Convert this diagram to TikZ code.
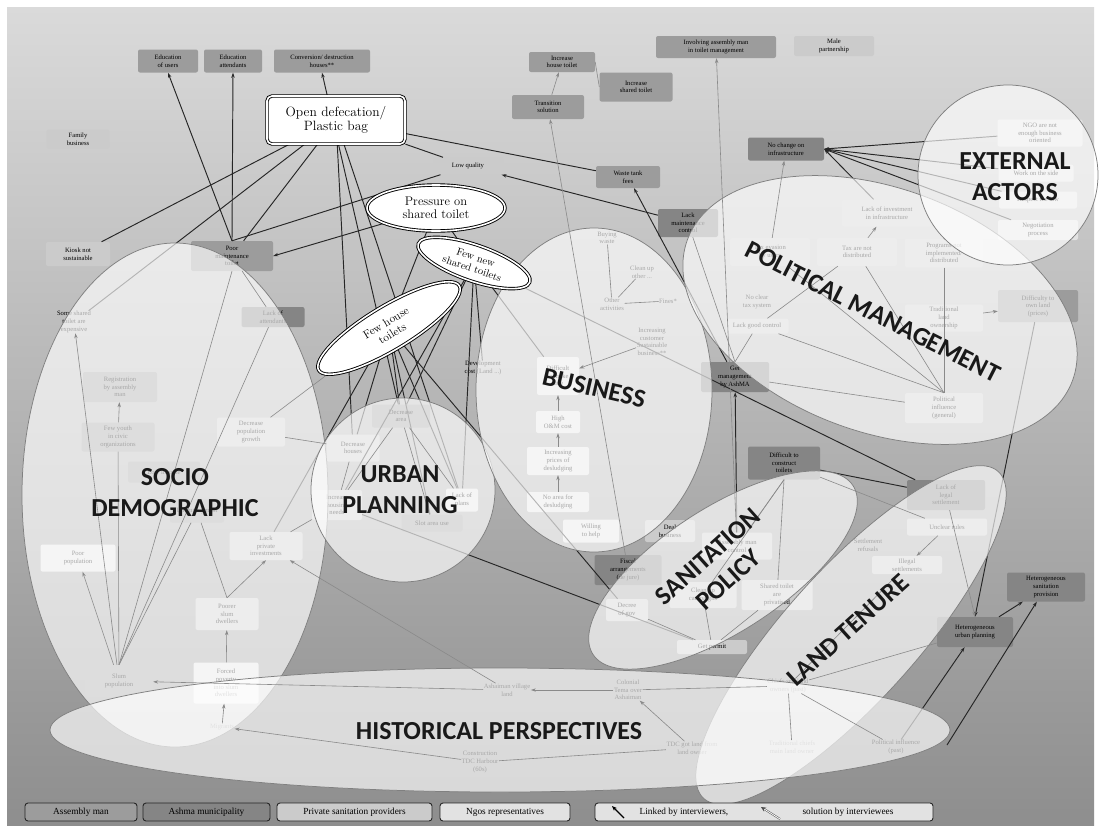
\documentclass[tikz,border=0pt]{standalone}
\usepackage{fontspec}
\newfontfamily\boxfont{Liberation Serif}
\newfontfamily\labfont{Carlito}
\usetikzlibrary{shapes.geometric,arrows.meta}
\definecolor{amC}{HTML}{9C9C9C}
\definecolor{ashC}{HTML}{858585}
\definecolor{pspC}{HTML}{CBCBCB}
\definecolor{ngoC}{HTML}{E2E2E2}
\definecolor{bgTop}{HTML}{DADADA}
\definecolor{bgBot}{HTML}{8E8E8E}
\definecolor{innerLine}{HTML}{8A8A8A}
\pgfdeclarelayer{back}
\pgfdeclarelayer{boxes}
\pgfdeclarelayer{links}
\pgfdeclarelayer{ells}
\pgfdeclarelayer{inner}
\pgfsetlayers{back,boxes,links,ells,inner,main}
\tikzset{
  bx/.style={rounded corners=2pt, inner sep=0.5pt, align=center,
    font=\boxfont\fontsize{6.6}{7.6}\selectfont, text=black},
  am/.style={bx, fill=amC},
  ash/.style={bx, fill=ashC},
  psp/.style={bx, fill=pspC},
  ngo/.style={bx, fill=ngoC},
  txt/.style={bx},
  ell/.style={fill=white, fill opacity=0.66, draw=black!50, line width=0.75pt},
  cnode/.style={draw=black, line width=0.9pt, double=white, double distance=1.6pt,
    fill=white, align=center, inner sep=0pt, font=\fontsize{12.5}{13.5}\selectfont},
  lab/.style={align=center, text=black!90, font=\labfont\bfseries\fontsize{26}{31}\selectfont},
  dk/.style={draw=black!85, line width=0.95pt},
  lt/.style={draw=innerLine, line width=0.6pt},
  arr/.style={-{Stealth[length=5pt,width=3.4pt]}},
  legbox/.style={draw=black!85, line width=0.9pt, rounded corners=3pt, minimum height=18,
    inner sep=1pt, font=\boxfont\fontsize{9.3}{10}\selectfont}
}
\begin{document}
\begin{tikzpicture}[x=1pt,y=-1pt]
\useasboundingbox (0,0) rectangle (1100,825);

% ---------- central problem nodes ----------
\node[cnode, rounded corners=5pt, minimum width=138, minimum height=48,
  font=\fontsize{13.5}{14.5}\selectfont] (od) at (336,120) {Open defecation/\\Plastic bag};
\node[cnode, ellipse, minimum width=138, minimum height=46] (pres) at (436,208) {Pressure on\\shared toilet};
\node[cnode, ellipse, rotate=-19, minimum width=118, minimum height=36,
  font=\fontsize{10.5}{11.5}\selectfont] (fns) at (474,263) {Few new\\shared toilets};
\node[cnode, ellipse, rotate=31, minimum width=164, minimum height=44,
  font=\fontsize{11.5}{12.5}\selectfont] (fht) at (389,328) {Few house\\toilets};

% ---------- boxes ----------
\begin{pgfonlayer}{boxes}
% upper row
\node[am, minimum width=60, minimum height=23] (eduU) at (168,61) {Education\\of users};
\node[am, minimum width=58, minimum height=23] (eduA) at (233,61) {Education\\attendants};
\node[am, minimum width=96, minimum height=23] (conn) at (322,61) {Conversion/ destruction\\houses**};
\node[am, minimum width=66, minimum height=20] (incH) at (562,62) {Increase\\house toilet};
\node[am, minimum width=73, minimum height=29] (incS) at (636,87) {Increase\\shared toilet};
\node[am, minimum width=72, minimum height=24] (trans) at (548,107) {Transition\\solution};
\node[am, minimum width=120, minimum height=22] (invol) at (716,47) {Involving assembly man\\in toilet management};
\node[psp, minimum width=80, minimum height=20] (male) at (834,46) {Male\\partnership};
\node[psp, minimum width=63, minimum height=19] (family) at (78,139) {Family\\business};
\node[psp, minimum width=64, minimum height=24] (kiosk) at (78,254) {Kiosk not\\sustainable};
\node[am, minimum width=82, minimum height=30] (poorM) at (232,256) {Poor\\maintenance\\toilet};
\node[psp, minimum width=70, minimum height=17] (lowQ) at (468,166) {Low quality};
\node[am, minimum width=64, minimum height=22] (waste) at (628,177) {Waste tank\\fees};
\node[ash, minimum width=76, minimum height=23] (noCh) at (786,149) {No change on\\infrastructure};
\node[ash, minimum width=60, minimum height=28] (lackMC) at (688,223) {Lack\\maintenance\\control};
% political management
\node[psp, minimum width=90, minimum height=27] (lackInv) at (887,213) {Lack of investment\\in infrastructure};
\node[psp, minimum width=80, minimum height=28] (taxX) at (770,252) {Tax evasion\\by users};
\node[psp, minimum width=80, minimum height=28] (taxD) at (857,252) {Tax are not\\distributed};
\node[psp, minimum width=78, minimum height=29] (progs) at (944,253) {Programs not\\implemented/\\distributed};
\node[txt] (noTax) at (757,302) {No clear\\tax system};
\node[psp, minimum width=63, minimum height=15] (lackGood) at (757,326) {Lack good control};
\node[psp, minimum width=78, minimum height=27] (transl) at (944,318) {Traditional\\land\\ownership};
\node[am, minimum width=80, minimum height=32] (diffLand) at (1038,306) {Difficulty to\\own land\\(prices)};
\node[ash, minimum width=68, minimum height=30] (getMan) at (735,377) {Get\\management\\by AshMA};
\node[psp, minimum width=78, minimum height=30] (polGen) at (944,408) {Political\\influence\\(general)};
% external actors
\node[ngo, minimum width=85, minimum height=27] (ngoA) at (1040,133) {NGO are not\\enough business\\oriented};
\node[ngo, minimum width=75, minimum height=17] (ngoB) at (1036,173) {Work on the side};
\node[ngo, minimum width=78, minimum height=17] (ngoC) at (1038,200) {Respect the law};
\node[ngo, minimum width=80, minimum height=20] (ngoD) at (1038,230) {Negotiation\\process};
% sanitation policy and land tenure
\node[ash, minimum width=72, minimum height=33] (diffT) at (784,463) {Difficult to\\construct\\toilets};
\node[ash, minimum width=78, minimum height=30] (lackLeg) at (946,495) {Lack of\\legal\\settlement};
\node[psp, minimum width=80, minimum height=17] (unclear) at (947,527) {Unclear rules};
\node[txt] (settle) at (868,545) {Settlement\\refusals};
\node[psp, minimum width=70, minimum height=18] (illegal) at (907,565) {Illegal\\settlements};
\node[ash, minimum width=78, minimum height=29] (hetSan) at (1046,587) {Heterogeneous\\sanitation\\provision};
\node[ash, minimum width=76, minimum height=30] (hetUrb) at (975,632) {Heterogeneous\\urban planning};
\node[psp, minimum width=70, minimum height=27] (sanA) at (737,546) {Assembly man\\control};
\node[psp, minimum width=67, minimum height=26] (sanB) at (703,595) {Clean up\\campaigns};
\node[psp, minimum width=71, minimum height=30] (sanC) at (777,595) {Shared toilet\\are\\privatised};
\node[psp, minimum width=70, minimum height=14] (getPer) at (712,647) {Get permit};
\node[ash, minimum width=67, minimum height=30] (fiscal) at (628,570) {Fiscal\\arrangements\\(de jure)};
\node[psp, minimum width=42, minimum height=22] (decree) at (627,610) {Decree\\of gov};
\node[psp, minimum width=50, minimum height=22] (deal) at (670,531) {Deal\\business};
% historical perspectives
\node[txt] (chiefs) at (788,686) {Chiefs sell land\\owners (past)};
\node[txt] (tradLand) at (792,747) {Traditional chiefs\\main land owner};
\node[txt] (polPast) at (896,747) {Political influence\\(past)};
\node[txt] (tdc) at (692,748) {TDC got land from\\land owner};
\node[txt] (colonial) at (628,690) {Colonial\\Tema over\\Ashaiman};
\node[txt] (village) at (507,690) {Ashaiman village\\land};
\node[txt] (constr) at (480,762) {Construction\\TDC Harbour\\(60s)};
\node[txt] (migr) at (222,727) {Migrants};
% business
\node[txt] (buying) at (607,238) {Buying\\waste};
\node[txt] (cleanUp) at (642,272) {Clean up\\other ...};
\node[txt] (other) at (612,304) {Other\\activities};
\node[txt] (fines) at (668,301) {Fines*};
\node[txt] (incCust) at (652,342) {Increasing\\customer\\Sustainable\\business**};
\node[ngo, minimum width=42, minimum height=38] (diffS) at (558,376) {Difficult\\to make\\sale};
\node[ngo, minimum width=44, minimum height=22] (highOM) at (558,422) {High\\O\&M cost};
\node[ngo, minimum width=62, minimum height=28] (incPrice) at (558,461) {Increasing\\prices of\\desludging};
\node[ngo, minimum width=62, minimum height=20] (noArea) at (558,502) {No area for\\desludging};
\node[ngo, minimum width=56, minimum height=23] (willing) at (591,531) {Willing\\to help};
\node[txt] (devCost) at (483,368) {Development\\cost (Land ...)};
% urban planning
\node[am, minimum width=58, minimum height=23] (decArea) at (401,416) {Decrease\\area};
\node[psp, minimum width=53, minimum height=27] (decHouse) at (353,448) {Decrease\\houses};
\node[psp, minimum width=50, minimum height=30] (urbUnk) at (337,505) {Increase\\housing\\needs};
\node[ngo, minimum width=32, minimum height=23] (lackPlans) at (462,500) {Lack of\\plans};
\node[am, minimum width=61, minimum height=17] (slot) at (432,523) {Slot area use};
% socio demographic
\node[txt] (someSh) at (74,322) {Some shared\\toilet are\\expensive};
\node[am, minimum width=74, minimum height=30] (registr) at (120,387) {Registration\\by assembly\\man};
\node[am, minimum width=73, minimum height=29] (fewGr) at (118,437) {Few youth\\in civic\\organizations};
\node[ash, minimum width=63, minimum height=20] (lackAtt) at (273,317) {Lack of\\attendants};
\node[am, minimum width=72, minimum height=21] (sdBox) at (164,472) {Low income};
\node[psp, minimum width=68, minimum height=29] (decPop) at (251,432) {Decrease\\population\\growth};
\node[am, minimum width=54, minimum height=23] (lowInc) at (197,511) {Unemployment};
\node[psp, minimum width=73, minimum height=28] (lackPriv) at (266,546) {Lack\\private\\investments};
\node[ngo, minimum width=75, minimum height=27] (poorPop) at (78,558) {Poor\\population};
\node[psp, minimum width=63, minimum height=32] (poorer) at (227,614) {Poorer\\slum\\dwellers};
\node[am, minimum width=68, minimum height=32] (slumPop) at (119,681) {Slum\\population};
\node[ngo, minimum width=65, minimum height=41] (poverty) at (226,683) {Forced\\poverty\\into slum\\dwellers};
\coordinate (histE) at (947,745);
\end{pgfonlayer}

% ---------- connectors from the central problems (under the themes) ----------
\begin{pgfonlayer}{links}
\draw[dk] (od) -- (kiosk);
\draw[dk] (od) -- (someSh);
\draw[dk] (poorM) -- (od);
\draw[dk] (od) -- (waste);
\draw[dk] (od) -- (lowQ);
\draw[dk] (od) -- (lackPlans);
\draw[dk] (od) -- (decHouse);
\draw[dk,arr] (poorM.north) -- (eduU.south);
\draw[dk,arr] (poorM.north) -- (eduA.south);
\draw[dk,arr] (decArea) -- (conn.south);
\draw[dk,arr] (pres) -- (poorM.east);
\draw[dk] (lowQ) -- (poorM.north);
\draw[dk] (fns) -- (pres);
\draw[dk] (fht) -- (pres);
\draw[dk] (fht) -- (decArea);
\draw[dk] (fht) -- (decHouse);
\draw[dk] (fht) -- (lackPlans);
\draw[dk] (fht) -- (decree);
\draw[dk] (fht) -- (slot);
\draw[dk] (lackPriv) -- (fht);
\draw[dk] (fns) -- (devCost);
\draw[dk] (fns) -- (decArea);
\draw[dk] (fns) -- (diffS);
\draw[dk] (fns) -- (lackPlans);
\draw[dk] (fns) -- (lackLeg);
\draw[dk] (fns) -- (urbUnk);
\draw[dk] (urbUnk) -- (getPer);
\draw[dk,arr] (getMan) -- (waste);
\draw[dk,arr] (sanA) -- (getMan);
\draw[dk,arr] (lackMC) -- (lowQ);
\draw[dk,arr] (ngoA) -- (noCh.east);
\draw[dk,arr] (ngoB) -- (noCh.east);
\draw[dk,arr] (ngoC) -- (noCh.east);
\draw[dk,arr] (ngoD) -- (noCh.east);
\draw[dk,arr] (lackInv) -- (noCh.east);
\draw[dk,arr] (diffLand) -- (hetUrb.north);
\draw[dk,arr] (hetUrb) -- (hetSan);
\draw[dk,arr] (polPast) -- (hetUrb);
\draw[dk,arr] (histE) -- (hetSan);
\draw[dk] (diffT) -- (lackLeg);
\end{pgfonlayer}

% ---------- themes ----------
\begin{pgfonlayer}{ells}
\draw[ell] (175,495) ellipse [x radius=153, y radius=252];
\draw[ell] (403,490) circle [radius=92];
\draw[ell] (594,390) ellipse [x radius=118, y radius=162];
\draw[ell, rotate around={-20:(880,310)}] (880,310) ellipse [x radius=205, y radius=122];
\draw[ell] (1008,175) circle [radius=90];
\draw[ell, rotate around={33:(723,570)}] (723,570) ellipse [x radius=155, y radius=62];
\draw[ell, rotate around={48:(851,635)}] (851,635) ellipse [x radius=220, y radius=66];
\draw[ell] (500,730) ellipse [x radius=450, y radius=62];
\end{pgfonlayer}

% ---------- links between the factors of a theme ----------
\begin{pgfonlayer}{inner}
\draw[lt,arr] (fiscal) -- (trans);
\draw[lt,arr] (sanA) -- (invol);
\draw[lt,arr] (trans) -- (incH);
\draw[lt] (incH.east) -- (incS.west);
\draw[lt,arr] (taxX) -- (noCh);
\draw[lt,arr] (taxD) -- (lackInv);
\draw[lt] (taxX) -- (polGen.north);
\draw[lt] (taxD) -- (polGen.north);
\draw[lt] (progs) -- (polGen.north);
\draw[lt] (lackGood) -- (polGen.north);
\draw[lt] (getMan) -- (polGen);
\draw[lt] (lackMC) -- (getMan.north);
\draw[lt] (lackGood) -- (getMan.north);
\draw[lt] (taxD) -- (lackGood);
\draw[lt,arr] (transl) -- (diffLand);
\draw[lt,arr] (lackLeg) -- (hetUrb.north);
\draw[lt] (diffT) -- (unclear);
\draw[lt] (diffT.south) -- (sanA);
\draw[lt] (diffT.south) -- (sanC);
\draw[lt] (diffT.south) -- (sanB);
\draw[lt] (sanB) -- (getPer);
\draw[lt] (decree) -- (getPer);
\draw[lt] (sanC) -- (getPer);
\draw[lt,arr] (unclear) -- (illegal);
\draw[lt] (chiefs) -- (hetUrb);
\draw[lt] (chiefs) -- (illegal);
\draw[lt] (chiefs) -- (tradLand);
\draw[lt] (chiefs) -- (polPast);
\draw[lt] (colonial) -- (chiefs);
\draw[lt,arr] (colonial) -- (village);
\draw[lt,arr] (village) -- (slumPop);
\draw[lt] (tdc) -- (constr);
\draw[lt,arr] (constr) -- (migr);
\draw[lt,arr] (tdc) -- (colonial);
\draw[lt,arr] (poverty) -- (poorer);
\draw[lt,arr] (migr) -- (poverty);
\draw[lt,arr] (slumPop) -- (poorPop);
\draw[lt,arr] (slumPop) -- (someSh);
\draw[lt] (slumPop) -- (fewGr);
\draw[lt,arr] (fewGr) -- (registr);
\draw[lt] (slumPop.north) -- (poorM.south);
\draw[lt] (slumPop.north) -- (lackAtt);
\draw[lt] (lowInc) -- (slumPop.north);
\draw[lt] (lowInc) -- (poorer.north);
\draw[lt,arr] (poorer.north) -- (lackPriv.south);
\draw[lt] (lackPriv) -- (urbUnk);
\draw[lt] (decHouse) -- (urbUnk);
\draw[lt] (decPop) -- (decHouse);
\draw[lt] (poorM) -- (lackAtt);
\draw[lt] (decPop) -- (fht);
\draw[lt,arr] (village) -- (lackPriv);
\draw[lt] (buying) -- (other);
\draw[lt] (cleanUp) -- (other);
\draw[lt] (fines) -- (other);
\draw[lt,arr] (incCust) -- (diffS);
\draw[lt,arr] (highOM) -- (diffS);
\draw[lt,arr] (incPrice) -- (highOM);
\draw[lt,arr] (noArea) -- (incPrice);
\draw[lt] (decArea) -- (lackPlans);
\draw[lt] (decArea) -- (slot);
\draw[lt] (decArea) -- (urbUnk);
\end{pgfonlayer}

\node[lab] (lSocio) at (175,493) {SOCIO\\DEMOGRAPHIC};
\node[lab] (lUrban) at (400,490) {URBAN\\PLANNING};
\node[lab, rotate=-13] (lBus) at (594,388) {BUSINESS};
\node[lab, rotate=-27] (lPol) at (873,312) {POLITICAL MANAGEMENT};
\node[lab] (lExt) at (1015,177) {EXTERNAL\\ACTORS};
\node[lab, rotate=42] (lSan) at (718,568) {SANITATION\\POLICY};
\node[lab, rotate=42] (lLand) at (848,630) {LAND TENURE};
\node[lab] (lHist) at (499,731) {HISTORICAL PERSPECTIVES};

% ---------- legend ----------
\node[legbox, fill=amC, minimum width=112] (legAm) at (81,812) {Assembly man};
\node[legbox, fill=ashC, minimum width=127] (legAsh) at (206.5,812) {Ashma municipality};
\node[legbox, fill=pspC, minimum width=155] (legPsp) at (354.5,812) {Private sanitation providers};
\node[legbox, fill=ngoC, minimum width=130] (legNgo) at (505,812) {Ngos representatives};
\node[legbox, fill=ngoC, minimum width=338] (legLink) at (764,812) {};
\node[font=\boxfont\fontsize{9.3}{10}\selectfont] (legT1) at (684,812) {Linked by interviewers,};
\node[font=\boxfont\fontsize{9.3}{10}\selectfont] (legT2) at (848,812) {solution by interviewees};
\coordinate (la1s) at (624,818);
\coordinate (la1e) at (612,806);
\coordinate (la2s) at (780,819);
\coordinate (la2e) at (761,807);
\draw[black, line width=1.1pt, -{Stealth[length=5pt,width=4pt]}] (la1s) -- (la1e);
\draw[black!70, line width=0.5pt, double=white, double distance=0.8pt, -{Stealth[length=5pt,width=4.5pt]}] (la2s) -- (la2e);

% ---------- background ----------
\begin{pgfonlayer}{back}
\fill[white] (0,0) rectangle (1100,825);
\shade[top color=bgTop, bottom color=bgBot] (7,7) rectangle (1094,825);
\end{pgfonlayer}
\end{tikzpicture}
\end{document}
